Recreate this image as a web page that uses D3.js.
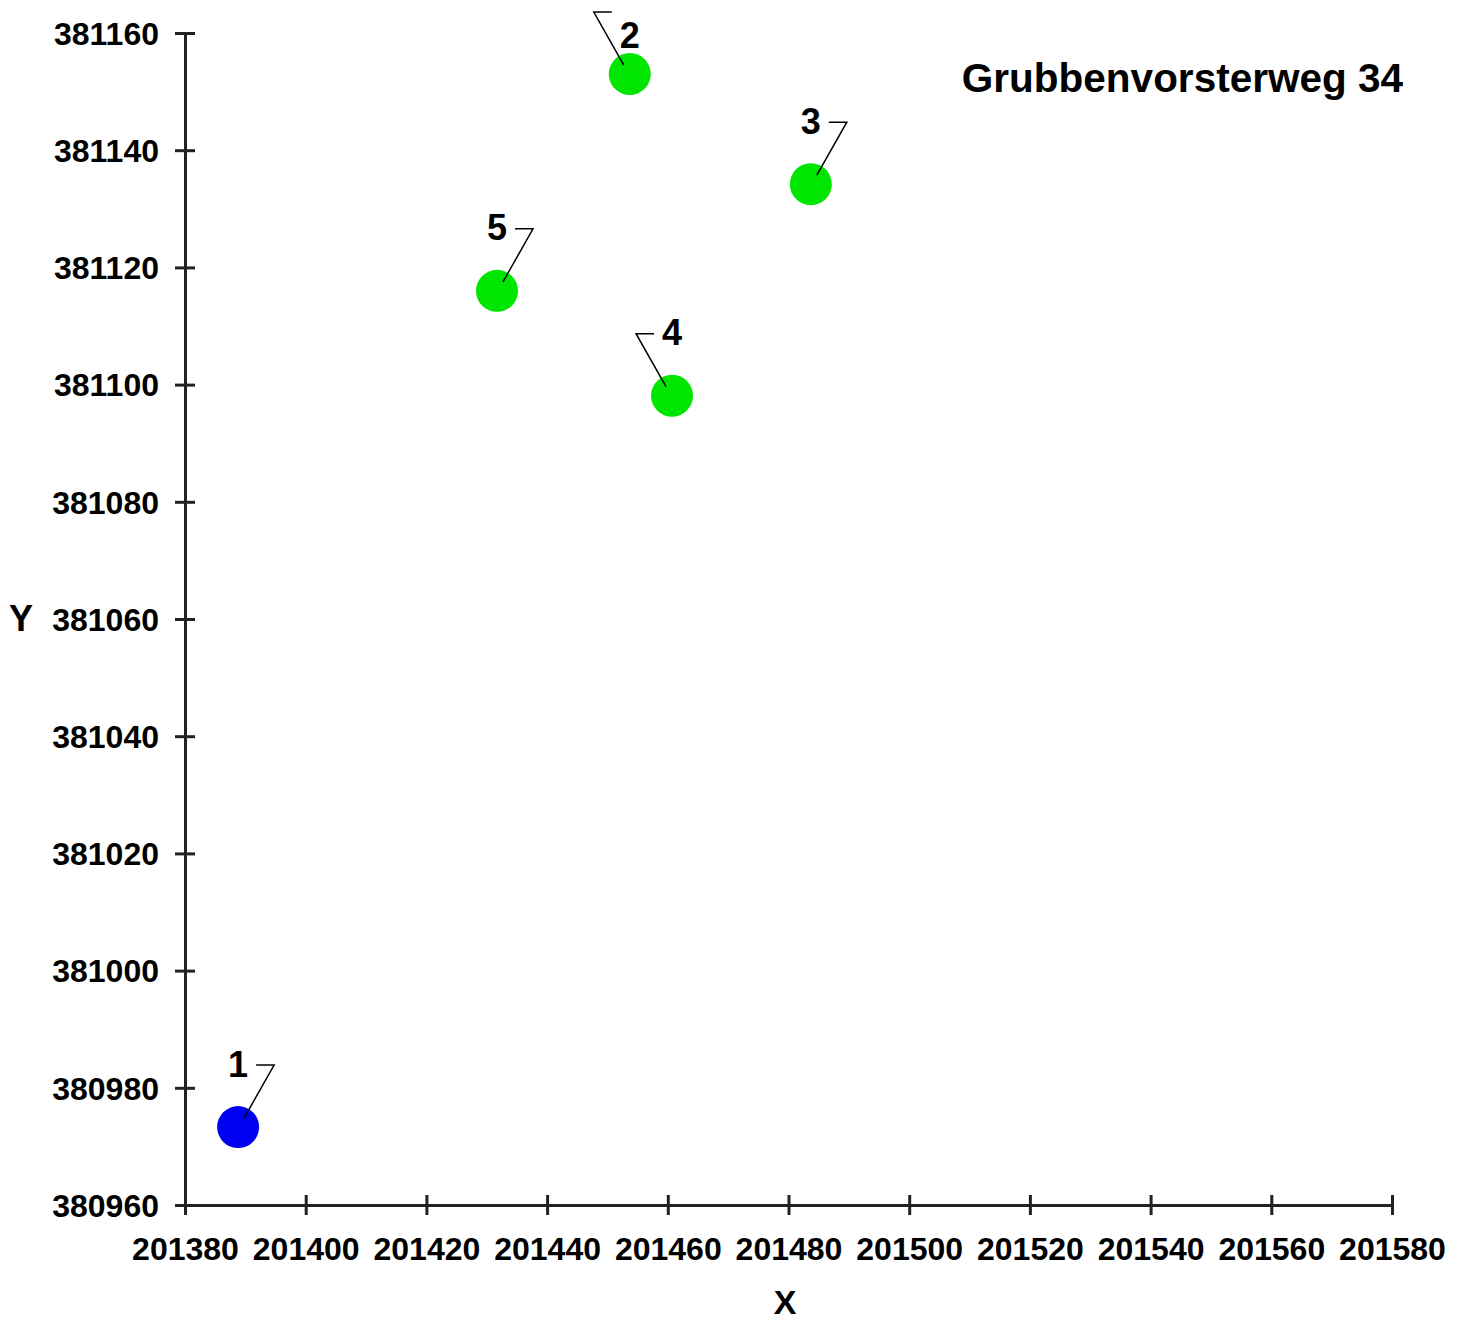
<!DOCTYPE html>
<html>
<head>
<meta charset="utf-8">
<script src="https://cdnjs.cloudflare.com/ajax/libs/d3/7.8.5/d3.min.js"></script>
<style>
body { margin: 0; background: #fff; }
text { font-family: "Liberation Sans", Arial, sans-serif; font-weight: bold; fill: #000; }
</style>
</head>
<body>
<svg id="chart" width="1464" height="1323"></svg>
<script>
// point numbers, coordinates (RD)
var pointIds = ['1', '2', '3', '4', '5'];
var xValues = [201388.8, 201453.7, 201483.7, 201460.7, 201431.7];
var yValues = [380973.3, 381153.0, 381134.2, 381098.1, 381116.0];
var pointGroup = ['ref', 'well', 'well', 'well', 'well'];
var xTicks = [201380, 201400, 201420, 201440, 201460, 201480, 201500, 201520, 201540, 201560, 201580];
var yTicks = [380960, 380980, 381000, 381020, 381040, 381060, 381080, 381100, 381120, 381140, 381160];
var title = 'Grubbenvorsterweg 34';

var color_map = { ref: '#0000f0', well: '#00e600' };
// which side the leader line goes to
var leaderSide = { '1': 1, '2': -1, '3': 1, '4': -1, '5': 1 };

var points = pointIds.map(function(id, i) {
  return { id: id, x: xValues[i], y: yValues[i], group: pointGroup[i] };
});

var svg = d3.select('#chart');

var x = d3.scaleLinear().domain([201380, 201580]).range([185, 1392]);
var y = d3.scaleLinear().domain([380960, 381160]).range([1205, 33]);

var xAxis = svg.append('g')
    .attr('transform', 'translate(0,' + y(380960) + ')')
    .call(d3.axisBottom(x).tickValues(xTicks).tickFormat(d3.format('d')).tickSize(10).tickPadding(22));
xAxis.selectAll('.tick line').attr('y1', -10).attr('y2', 10);

var yAxis = svg.append('g')
    .attr('transform', 'translate(' + x(201380) + ',0)')
    .call(d3.axisLeft(y).tickValues(yTicks).tickFormat(d3.format('d')).tickSize(10).tickPadding(16));
yAxis.selectAll('.tick line').attr('x1', -10).attr('x2', 10);

svg.selectAll('.domain').attr('stroke', '#222').attr('stroke-width', 3);
svg.selectAll('.tick line').attr('stroke', '#222').attr('stroke-width', 3);
svg.selectAll('.tick text')
    .attr('font-size', '32px')
    .attr('font-family', '"Liberation Sans", Arial, sans-serif')
    .attr('font-weight', 'bold')
    .attr('fill', '#000');
yAxis.selectAll('.tick text').attr('dy', '0.35em');
xAxis.selectAll('.tick text').attr('dy', '0.71em');

svg.append('text')
    .attr('x', 21).attr('y', 618).attr('dy', '0.35em')
    .attr('text-anchor', 'middle').attr('font-size', '36px')
    .text('Y');

svg.append('text')
    .attr('x', 785).attr('y', 1302).attr('dy', '0.35em')
    .attr('text-anchor', 'middle').attr('font-size', '34px')
    .text('X');

svg.append('text')
    .attr('x', 1403).attr('y', 78).attr('dy', '0.35em')
    .attr('text-anchor', 'end').attr('font-size', '40.5px')
    .text(title);

svg.selectAll('circle.pt')
    .data(points)
    .enter().append('circle')
    .attr('class', 'pt')
    .attr('cx', function(d) { return x(d.x); })
    .attr('cy', function(d) { return y(d.y); })
    .attr('r', 21)
    .style('fill', function(d) { return color_map[d.group]; });

// leader lines: diagonal from point to label level, then short horizontal
svg.selectAll('path.leader')
    .data(points)
    .enter().append('path')
    .attr('class', 'leader')
    .attr('d', function(d) {
      var s = leaderSide[d.id], cx = x(d.x), cy = y(d.y);
      var ly = cy - 62;
      var p0 = [cx + s * 6, cy - 9];
      var p1 = [cx + s * 36, ly];
      var p2 = [cx + s * 18, ly];
      return 'M' + p0 + 'L' + p1 + 'L' + p2;
    })
    .attr('fill', 'none')
    .attr('stroke', '#000')
    .attr('stroke-width', 1.5);

svg.selectAll('text.lbl')
    .data(points)
    .enter().append('text')
    .attr('class', 'lbl')
    .attr('x', function(d) { return x(d.x); })
    .attr('y', function(d) { return Math.max(y(d.y) - 63, 35); })
    .attr('dy', '0.35em')
    .attr('text-anchor', 'middle')
    .attr('font-size', '36px')
    .text(function(d) { return d.id; });
</script>
</body>
</html>
